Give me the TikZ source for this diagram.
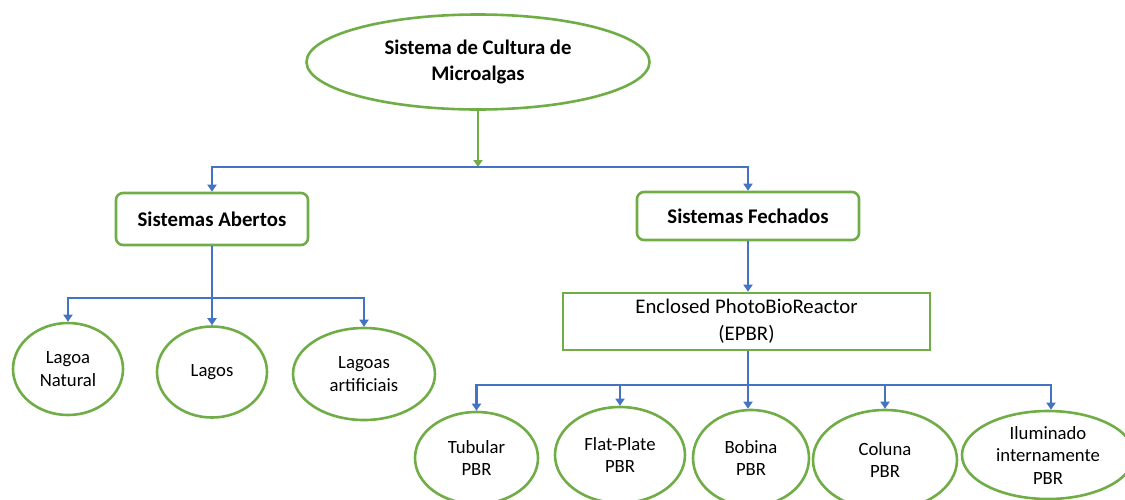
\documentclass[tikz,border=0pt]{standalone}
\usepackage{fontspec}
\setmainfont{Carlito}
\usetikzlibrary{shapes.geometric,arrows.meta,calc}
\definecolor{grn}{HTML}{70AD47}
\definecolor{blu}{HTML}{4472C4}
\begin{document}
\begin{tikzpicture}[x=1pt,y=-1pt,
  oval/.style={ellipse,draw=grn,line width=2.6pt,inner sep=0pt,align=center,font=\fontsize{18.7}{22.5}\selectfont},
  rbox/.style={rectangle,rounded corners=7pt,draw=grn,line width=2.6pt,inner sep=0pt,align=center,font=\fontsize{20.8}{26}\selectfont\bfseries},
  sbox/.style={rectangle,draw=grn,line width=2.6pt,inner sep=0pt,align=center,font=\fontsize{20.8}{27}\selectfont},
  tip/.style={-{Triangle[width=9pt,length=7pt]}},
  bl/.style={draw=blu,line width=2.4pt},
  gl/.style={draw=grn,line width=2.4pt}]
\useasboundingbox (0,0) rectangle (1125,499);
\node[oval,minimum width=343pt,minimum height=95pt,font=\fontsize{20.7}{26}\selectfont\bfseries] (top) at (478,62) {Sistema de Cultura de\\Microalgas};
\node[rbox,minimum width=192pt,minimum height=52pt] (ab) at (212,219) {Sistemas Abertos};
\node[rbox,minimum width=222pt,minimum height=48pt] (fe) at (748,216) {Sistemas Fechados};
\node[sbox,minimum width=367pt,minimum height=57pt] (epbr) at (746.5,321.5) {Enclosed PhotoBioReactor\\(EPBR)};
\node[oval,minimum width=110pt,minimum height=92pt] (ln) at (68,369) {Lagoa\\Natural};
\node[oval,minimum width=110pt,minimum height=91pt] (lg) at (212,372) {Lagos};
\node[oval,minimum width=142pt,minimum height=92pt] (la) at (364,374) {Lagoas\\artificiais};
\node[oval,minimum width=123pt,minimum height=92pt] (tu) at (476.5,458) {Tubular\\PBR};
\node[oval,minimum width=130pt,minimum height=96pt] (fp) at (620,455) {Flat-Plate\\PBR};
\node[oval,minimum width=116pt,minimum height=96pt] (bo) at (751,458) {Bobina\\PBR};
\node[oval,minimum width=144pt,minimum height=100pt] (co) at (885,460) {Coluna\\PBR};
\node[oval,minimum width=172pt,minimum height=88pt] (il) at (1048,455) {Iluminado\\internamente\\PBR};
\coordinate (j1) at (478,167);
\coordinate (j2) at (212,298);
\coordinate (j3) at (748,385);
\draw[gl,tip] (top.south) -- (j1);
\draw[bl,tip] (j1) -| (ab.north);
\draw[bl,tip] (j1) -| (fe.north);
\draw[bl] (ab.south) -- (j2);
\draw[bl,tip] (j2) -| (ln.north);
\draw[bl,tip] (j2) -- (j2 |- lg.north);
\draw[bl,tip] (j2) -| (la.north);
\draw[bl,tip] (fe.south) -- (fe.south |- epbr.north);
\draw[bl] (j3 |- epbr.south) -- (j3);
\draw[bl,tip] (j3) -| (tu.north);
\draw[bl,tip] (j3) -| (fp.north);
\draw[bl,tip] (j3) -- (j3 |- bo.north);
\draw[bl,tip] (j3) -| (co.north);
\draw[bl,tip] (j3) -| ($(il.north)+(3,0)$);
\end{tikzpicture}
\end{document}
